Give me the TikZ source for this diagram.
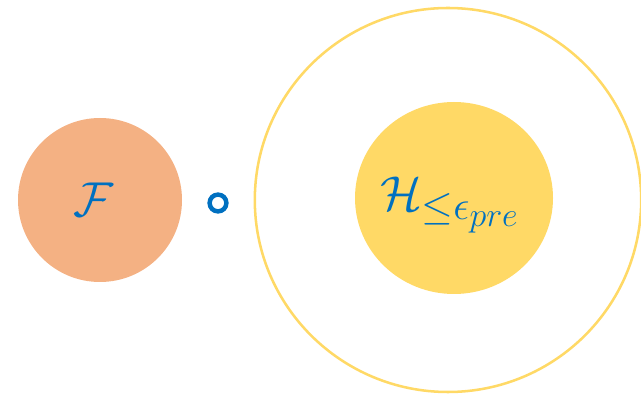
\documentclass[tikz,border=0pt]{standalone}
\usepackage{amsmath,amssymb}
\usepackage{tikz}
\usetikzlibrary{positioning, shapes.geometric}
\definecolor{SoftOrange}{RGB}{244, 177, 131}
\definecolor{SunYellow}{RGB}{255, 217, 102}
\definecolor{InkBlue}{RGB}{0, 112, 192}
\tikzset{
  setdisk/.style={ellipse, inner sep=0pt, text=InkBlue},
  setlabel/.style={font=\Huge, text=InkBlue, scale=1.4, transform shape},
  composeop/.style={circle, draw=InkBlue, line width=3.2pt,
    minimum size=0.42cm, inner sep=0pt},
}
\begin{document}
\begin{tikzpicture}
  \useasboundingbox (0,0) rectangle (16.025,9.875);
  \clip (0,0) rectangle (16.025,9.875);
  % outer ring and inner hypothesis set
  \node[setdisk, draw=SunYellow, line width=1.8pt, minimum width=9.66cm,
        minimum height=9.6cm] (ring) at (11.2,4.875) {};
  \node[setdisk, fill=SunYellow, minimum width=4.95cm, minimum height=4.8cm]
    (hpre) at (11.35,4.925) {};
  \node[setlabel] (hlab) at (11.25,4.75) {$\mathcal{H}_{\leq\epsilon_{pre}}$};
  % feature set and composition
  \node[setdisk, fill=SoftOrange, minimum size=4.1cm] (feat) at (2.5,4.875) {};
  \node[setlabel] (flab) at (2.35,4.875) {$\mathcal{F}$};
  \node[composeop] (comp) at (5.45,4.8) {};
\end{tikzpicture}
\end{document}
